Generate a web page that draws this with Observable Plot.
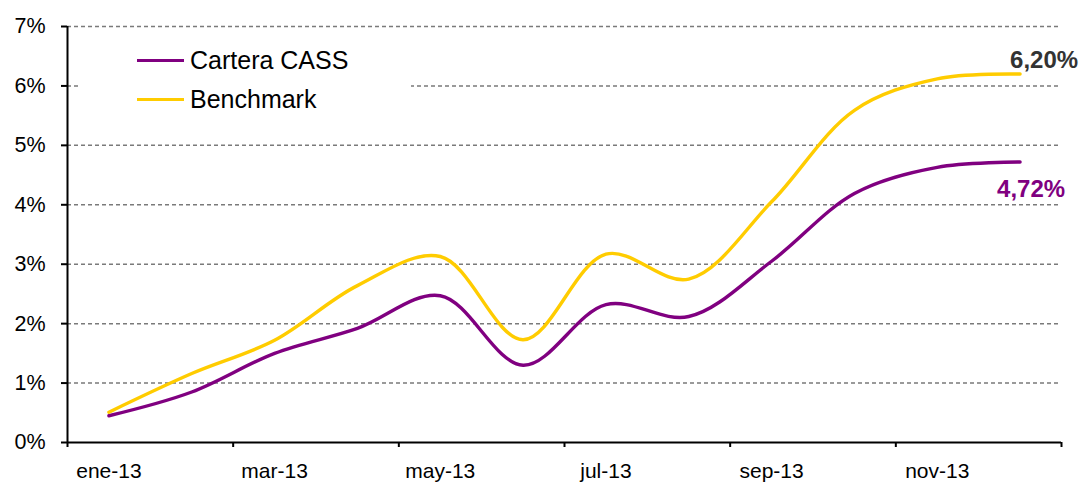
<!DOCTYPE html>
<html>
<head>
<meta charset="utf-8">
<script src="https://cdn.jsdelivr.net/npm/d3@7"></script>
<script src="https://cdn.jsdelivr.net/npm/@observablehq/plot@0.6"></script>
<style>
  html, body { margin: 0; padding: 0; background: #fff; }
  #wrap { position: relative; width: 1082px; height: 483px; font-family: "Liberation Sans", Arial, sans-serif; }
  #legend { position: absolute; left: 79px; top: 38px; width: 332px; height: 88px; background: #fff; }
  .item { position: absolute; left: 58px; height: 30px; display: flex; align-items: center; font-size: 25px; color: #000; }
  .sw { width: 47px; height: 3px; margin-right: 6px; }
</style>
</head>
<body>
<div id="wrap"></div>
<script>
const months = ["ene-13","feb-13","mar-13","abr-13","may-13","jun-13","jul-13","ago-13","sep-13","oct-13","nov-13","dic-13"];
const cartera = [0.45, 0.85, 1.50, 1.92, 2.47, 1.30, 2.32, 2.12, 3.05, 4.19, 4.63, 4.72];
const benchmark = [0.51, 1.16, 1.72, 2.64, 3.13, 1.73, 3.17, 2.75, 4.05, 5.59, 6.12, 6.20];
const seriesNames = ["Cartera CASS", "Benchmark"];
const seriesColors = ["#800080", "#FFCC00"];
const yTicks = [0, 1, 2, 3, 4, 5, 6, 7];
const labelMonths = [0, 2, 4, 6, 8, 10];
const boundaryTicks = [-0.5, 1.5, 3.5, 5.5, 7.5, 9.5, 11.5];

const rows = [];
months.forEach((m, i) => {
  rows.push({i, month: m, series: seriesNames[0], value: cartera[i]});
  rows.push({i, month: m, series: seriesNames[1], value: benchmark[i]});
});
const last = months.length - 1;
const endLabels = [
  {i: last, value: benchmark[last], series: seriesNames[1]},
  {i: last, value: cartera[last], series: seriesNames[0]}
];
const fmt = v => v.toFixed(2).replace(".", ",") + "%";
const font = "Liberation Sans, Arial, sans-serif";

const chart = Plot.plot({
  width: 1082,
  height: 483,
  marginLeft: 67,
  marginRight: 21,
  marginTop: 26,
  marginBottom: 41,
  style: {fontFamily: font, background: "#fff", overflow: "visible"},
  x: {type: "linear", domain: [-0.5, 11.5]},
  y: {domain: [0, 7]},
  color: {domain: seriesNames, range: seriesColors},
  marks: [
    Plot.ruleY(yTicks.filter(d => d > 0), {stroke: "#7a7a7a", strokeWidth: 1.5, strokeDasharray: "4,3"}),
    Plot.axisY({ticks: yTicks, tickFormat: d => d + "%", tickSize: 6, tickPadding: 16, fontSize: 21.5, stroke: "#000", strokeWidth: 2, strokeOpacity: 1, fill: "#000", label: null}),
    Plot.axisX({ticks: boundaryTicks, tickFormat: () => "", tickSize: 5, stroke: "#000", strokeWidth: 2, strokeOpacity: 1, label: null}),
    Plot.axisX({ticks: labelMonths, tickFormat: i => months[i], tickSize: 0, tickPadding: 21, fontSize: 21, fill: "#000", label: null}),
    Plot.ruleX([-0.5], {y1: 0, y2: 7, stroke: "#000", strokeWidth: 2}),
    Plot.ruleY([0], {x1: -0.5, x2: 11.5, stroke: "#000", strokeWidth: 2}),
    Plot.line(rows, {x: "i", y: "value", z: "series", stroke: "series", strokeWidth: 3.4, curve: "catmull-rom"}),
    Plot.text(endLabels.slice(0, 1), {x: "i", y: "value", text: d => fmt(d.value), dx: 24, dy: -14, fontSize: 24, fontWeight: "bold", fill: "#333333"}),
    Plot.text(endLabels.slice(1), {x: "i", y: "value", text: d => fmt(d.value), dx: 11, dy: 27, fontSize: 24, fontWeight: "bold", fill: "#800080"})
  ]
});

const wrap = document.getElementById("wrap");
wrap.appendChild(chart);

const legend = document.createElement("div");
legend.id = "legend";
seriesNames.forEach((name, k) => {
  const item = document.createElement("div");
  item.className = "item";
  item.style.top = (7 + k * 39) + "px";
  const sw = document.createElement("div");
  sw.className = "sw";
  sw.style.background = seriesColors[k];
  const tx = document.createElement("span");
  tx.textContent = name;
  item.appendChild(sw);
  item.appendChild(tx);
  legend.appendChild(item);
});
wrap.appendChild(legend);
</script>
</body>
</html>
